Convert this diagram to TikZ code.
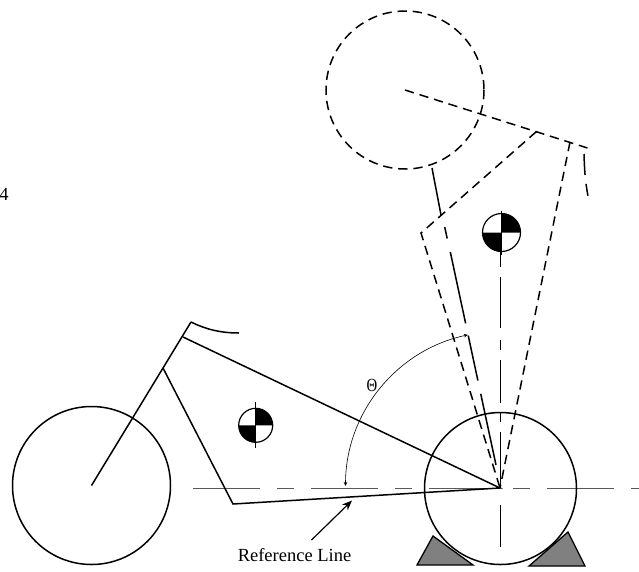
\documentclass[tikz,border=0pt]{standalone}
\usepackage{fontspec}
\setmainfont{Liberation Serif}
\usetikzlibrary{arrows.meta}
\tikzset{
  x=1pt,y=-1pt,
  body/.style={draw=black,line width=1.5pt},
  dashbody/.style={draw=black,line width=1.5pt,dash pattern=on 9.3pt off 5.9pt},
  longdash/.style={draw=black,line width=1.5pt,dash pattern=on 73pt off 12.5pt on 46pt off 13.5pt on 74pt off 100pt},
  center line/.style={draw=black!65,line width=0.9pt},
  label/.style={font=\fontsize{18.5pt}{20pt}\selectfont,text=black,inner sep=0pt},
  chock/.style={fill=black!50,draw=black,line width=1.3pt}
}
\newcommand{\cgmark}[4]{% x y r tick
  \fill[white] (#1,#2) circle[radius=#3];
  \fill[black] (#1,#2) -- ++(0,-#3) arc[start angle=-90,end angle=0,radius=#3] -- cycle;
  \fill[black] (#1,#2) -- ++(0,#3) arc[start angle=90,end angle=180,radius=#3] -- cycle;
  \draw[black,line width=1.2pt] (#1,#2) circle[radius=#3];
  \draw[black,line width=0.9pt] (#1,#2-#3-#4) -- (#1,#2+#3+#4);
}
\begin{document}
\begin{tikzpicture}
\useasboundingbox (0,0) rectangle (639,571);
\coordinate (hip) at (500,488);
\coordinate (head) at (405,90);
\coordinate (shoulder) at (536.5,131.5);
\coordinate (knee) at (421,233);
\coordinate (elbow) at (570,142);
\coordinate (neck) at (587.5,148);
\coordinate (fronthub) at (91.5,485.5);
\coordinate (bartop) at (191,322);
\coordinate (barend) at (239,333);
\coordinate (frametop) at (183,337);
\coordinate (framemid) at (163,368);
\coordinate (framelow) at (233,504);
% chocks
\draw[chock] (433,536) -- (417,565) -- (473,565) -- cycle;
\draw[chock] (568,532) -- (585,566) -- (529,566) -- cycle;
% center lines
\draw[center line,dash pattern=on 67pt off 17pt on 17pt off 17pt] (193,488) -- (639,488);
\draw[center line,black,line width=0.8pt,dash pattern=on 42pt off 17pt on 56pt off 10pt on 10pt off 9pt on 43pt off 10pt on 10pt off 12pt on 51pt off 10pt on 15pt off 100pt] (500,547) -- (500,252);
% wheels
\draw[body] (fronthub) circle[radius=79];
\draw[body] (500.5,488.5) circle[radius=76];
% bike frame
\draw[body] (fronthub) -- (bartop);
\draw[body] (bartop) .. controls (205,329) and (220,333) .. (barend);
\draw[body] (frametop) -- (hip) -- (framelow) -- (framemid);
% rider
\draw[dashbody] (head) circle[radius=79];
\draw[dashbody] (head) -- (neck);
\draw[body,dash pattern=on 21pt off 9pt on 12pt off 100pt] (584,154) .. controls (584.5,170) and (585,180) .. (588,196);
\draw[dashbody] (shoulder) -- (knee) -- (hip);
\draw[dashbody] (elbow) -- (hip);
\draw[body] (432,168) -- (441,215);
\draw[body] (444.7,227) -- (447.2,238.5);
\draw[longdash] (450.3,252) -- (496,465);
% angle
\draw[black,line width=0.6pt,{Stealth[length=4pt,width=3.5pt]}-{Stealth[length=4pt,width=3.5pt]}] (345.5,486) arc[start angle=180,end angle=258,radius=154.5];
% CG marks
\cgmark{501.5}{232.5}{19}{3}
\cgmark{255.7}{425.3}{17}{6}
% arrow
\coordinate (reftail) at (311.5,540);
\coordinate (refhead) at (352,500.5);
\draw[black,line width=1.2pt,-{Stealth[length=10pt,width=8pt]}] (reftail) -- (refhead);
% labels
\node[label] (reflabel) at (294.5,555) {Reference Line};
\node[label,xscale=0.8] (theta) at (372,385) {Θ};
\node[label] (four) at (4,194.5) {4};
\end{tikzpicture}
\end{document}
